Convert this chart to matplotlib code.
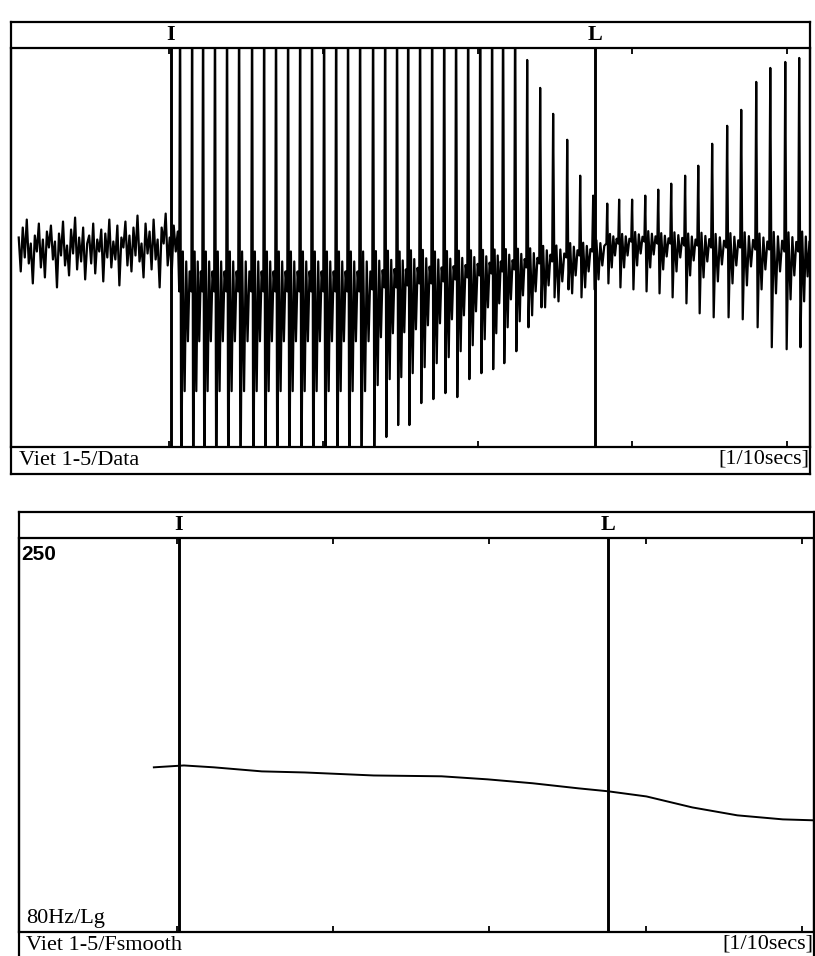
import numpy as np
import matplotlib
matplotlib.use("Agg")
import matplotlib.pyplot as plt
from matplotlib import transforms
from matplotlib.ticker import NullLocator

# marcas de segmento (ms)
marca_I = 101.5
marca_L = 376.0

# ruido antes de la sonorizacion
ruido = [0.05, -0.12, 0.10, -0.05, 0.14, -0.08, 0.02, -0.18, 0.06, -0.02,
         0.12, -0.10, 0.04, -0.15, 0.08, 0.00, 0.11, -0.06, 0.03, -0.20,
         0.07, -0.04, 0.13, -0.09, 0.01, -0.14, 0.09, -0.03, 0.15, -0.11,
         0.05, -0.07, 0.10, -0.16, 0.02, 0.06, -0.08, 0.12, -0.13, 0.04,
         -0.02, 0.09, -0.17, 0.07, -0.05, 0.14, -0.10, 0.03, -0.06, 0.11,
         -0.19, 0.05, 0.00, 0.13, -0.09, 0.06, -0.12, 0.10, -0.04, 0.16,
         -0.07, 0.02, -0.15, 0.12, -0.03, 0.08, -0.11, 0.14, -0.06, 0.04,
         -0.20, 0.10, 0.02, 0.17, -0.09, 0.05, -0.13, 0.11, -0.02, 0.08]

# pulsos glotales: tiempo (ms), pico, valle, nivel medio y oscilacion
pulsos_ms = [107.4, 115.2, 122.3, 130.0, 137.8, 145.6, 154.0, 161.8, 169.5, 177.3,
             185.1, 192.8, 200.6, 208.4, 216.1, 223.9, 232.3, 240.1, 247.8, 255.0,
             262.7, 270.5, 278.3, 286.0, 293.8, 301.6, 309.3, 316.4, 324.2, 332.0,
             340.4, 348.8, 357.9, 366.3, 374.7, 383.8, 391.5, 399.9, 408.4, 416.8,
             425.2, 434.2, 442.7, 451.7, 461.4, 470.5, 480.2, 489.3, 499.0, 508.0,
             516.4]
pico = [1.3] * 29 + [0.94, 0.80, 0.67, 0.54, 0.36, 0.26, 0.22, 0.24, 0.24, 0.26,
                     0.29, 0.32, 0.36, 0.41, 0.52, 0.61, 0.69, 0.83, 0.90, 0.93,
                     0.95, 0.96]
valle = [-1.3] * 16 + [-1.0, -0.95, -0.89, -0.89, -0.78, -0.76, -0.73, -0.75, -0.66,
                       -0.63, -0.61, -0.58, -0.52, -0.40, -0.30, -0.25, -0.21, -0.25,
                       -0.21, -0.18, -0.20, -0.21, -0.22, -0.23, -0.25, -0.28, -0.33,
                       -0.35, -0.35, -0.36, -0.40, -0.50, -0.51, -0.50, -0.46]
base = [-0.22] * 16 + [-0.21, -0.20, -0.20, -0.19, -0.18, -0.18, -0.17, -0.16, -0.15,
                       -0.14, -0.13, -0.12, -0.11, -0.10, -0.08, -0.07, -0.05, -0.04,
                       -0.02, 0.02, 0.02, 0.03, 0.03, 0.02, 0.02, 0.01, 0.01,
                       0.00, 0.00, 0.00, -0.01, -0.01, -0.02, -0.02, -0.02]
anillo = [0.5] * 16 + [0.48, 0.46, 0.45, 0.44, 0.42, 0.40, 0.38, 0.36, 0.34, 0.32,
                       0.30, 0.28, 0.26, 0.24, 0.22, 0.20, 0.18, 0.16, 0.14,
                       0.12, 0.12, 0.12, 0.13, 0.13, 0.14, 0.15, 0.16, 0.17, 0.18,
                       0.19, 0.20, 0.22, 0.24, 0.25, 0.25]

# forma de un ciclo (fraccion del periodo)
fases = [0.0, 0.07, 0.17, 0.30, 0.45, 0.58, 0.72, 0.86]

# F0 suavizada
f0_ms = [85.5, 104.7, 123.8, 154.5, 182.0, 226.0, 269.4, 298.8, 327.6, 357.0,
         375.5, 400.4, 429.7, 458.5, 487.6, 507.4]
f0_hz = [128.8, 129.5, 128.8, 127.3, 126.9, 125.8, 125.5, 124.4, 123.0, 121.2,
         120.2, 118.4, 114.7, 112.1, 110.8, 110.5]

ANCHO, ALTO = 815, 956
SERIF = "Liberation Serif"


def caja(izq, arr, der, abj):
    # pixeles -> fraccion de figura
    return [izq / ANCHO, 1 - abj / ALTO, (der - izq) / ANCHO, (abj - arr) / ALTO]


def texto(fig, x, y, s, **kw):
    fig.text(x / ANCHO, 1 - y / ALTO, s, va="center", **kw)


def onda():
    t = list(np.linspace(3.0, pulsos_ms[0] - 1.5, len(ruido)))
    y = list(ruido)
    n = len(pulsos_ms)
    for i in range(n):
        if i < n - 1:
            periodo = pulsos_ms[i + 1] - pulsos_ms[i]
        else:
            periodo = pulsos_ms[i] - pulsos_ms[i - 1]
        b = base[i]
        r = anillo[i]
        valores = [b, pico[i], valle[i], b + 0.4 * r, b - r, b + 0.3 * r, b - 0.5 * r, b + 0.2 * r]
        for f, v in zip(fases, valores):
            t.append(pulsos_ms[i] + (f - fases[1]) * periodo)
            y.append(v)
    return t, y


def marco(fig, rect):
    ax = fig.add_axes(rect)
    ax.set_xticks([])
    ax.set_yticks([])
    for s in ax.spines.values():
        s.set_linewidth(1.6)
    return ax


def ejes(fig, rect):
    ax = fig.add_axes(rect, facecolor="none")
    for s in ax.spines.values():
        s.set_linewidth(1.6)
    ax.set_xticks([100, 200, 300, 400, 500])
    ax.tick_params(axis="x", direction="in", top=True, bottom=True, length=4,
                   width=1.3, labelbottom=False)
    ax.yaxis.set_major_locator(NullLocator())
    ax.yaxis.set_minor_locator(NullLocator())
    return ax


fig = plt.figure(figsize=(8.15, 9.56), dpi=100)

# panel superior: oscilograma
marco(fig, caja(11, 22, 810, 474))
ax1 = ejes(fig, caja(11, 48, 810, 447))
t, y = onda()
ax1.plot(t, y, color="k", lw=1.6)
ax1.set_xlim(-2, 515)
ax1.set_ylim(-1, 1)
for m in [marca_I, marca_L]:
    ax1.axvline(m, color="k", lw=2.1)
tr1 = transforms.blended_transform_factory(ax1.transData, ax1.transAxes)
ax1.text(marca_I, 1 + 13 / 399, "I", transform=tr1, ha="center", va="center",
         family=SERIF, fontsize=16, fontweight="bold", clip_on=False)
ax1.text(marca_L, 1 + 13 / 399, "L", transform=tr1, ha="center", va="center",
         family=SERIF, fontsize=16, fontweight="bold", clip_on=False)
texto(fig, 19, 461, "Viet 1-5/Data", family=SERIF, fontsize=16)
texto(fig, 809, 459, "[1/10secs]", family=SERIF, fontsize=16, ha="right")

# panel inferior: F0
marco(fig, caja(19, 512, 814, 958))
ax2 = ejes(fig, caja(19, 538, 814, 932))
ax2.set_yscale("log")
ax2.yaxis.set_major_locator(NullLocator())
ax2.yaxis.set_minor_locator(NullLocator())
ax2.plot(f0_ms, f0_hz, color="k", lw=1.4)
ax2.set_xlim(-0.7, 507.5)
ax2.set_ylim(80, 250)
for m in [marca_I, marca_L]:
    ax2.axvline(m, color="k", lw=2.1)
tr2 = transforms.blended_transform_factory(ax2.transData, ax2.transAxes)
ax2.text(marca_I, 1 + 13 / 394, "I", transform=tr2, ha="center", va="center",
         family=SERIF, fontsize=16, fontweight="bold", clip_on=False)
ax2.text(marca_L, 1 + 13 / 394, "L", transform=tr2, ha="center", va="center",
         family=SERIF, fontsize=16, fontweight="bold", clip_on=False)
texto(fig, 21, 555, "250", family="Liberation Sans", fontsize=15, fontweight="bold")
texto(fig, 26, 919, "80Hz/Lg", family=SERIF, fontsize=16)
texto(fig, 26, 946, "Viet 1-5/Fsmooth", family=SERIF, fontsize=16)
texto(fig, 813, 944, "[1/10secs]", family=SERIF, fontsize=16, ha="right")

fig.savefig("out.png", dpi=100)
